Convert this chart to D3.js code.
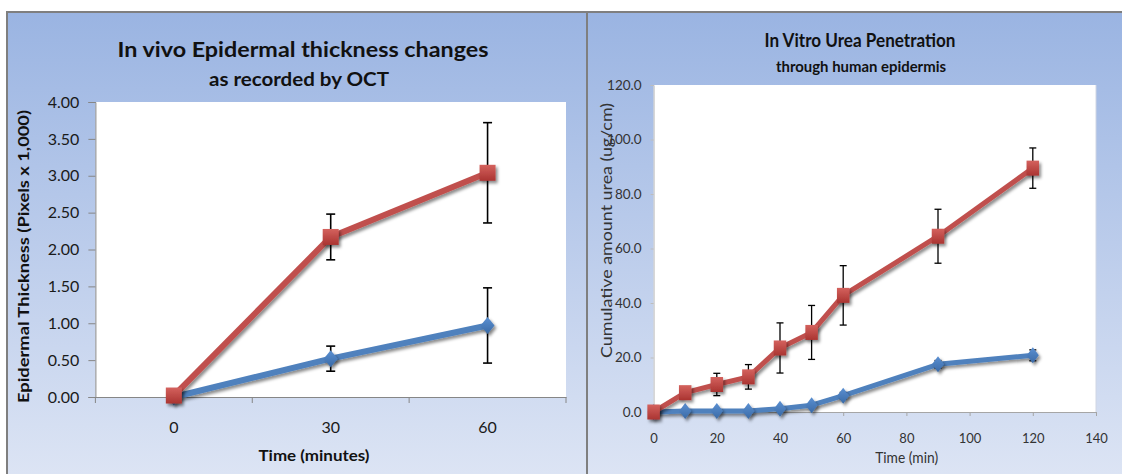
<!DOCTYPE html>
<html>
<head>
<meta charset="utf-8">
<script src="https://cdn.jsdelivr.net/npm/d3@7"></script>
<style>
  body { margin: 0; background: #fff; }
  svg { display: block; font-family: Lato, "Open Sans", sans-serif; }
</style>
</head>
<body>
<svg id="chart" width="1122" height="474"></svg>
<script>
// ---------- data: left panel (OCT thickness) ----------
const octTimes = ["0", "30", "60"];
const octTreated = [0.02, 2.17, 3.04];
const octTreatedErr = [0, 0.31, 0.68];
const octControl = [0, 0.52, 0.97];
const octControlErr = [0, 0.17, 0.51];
const octTicks = [0, 0.5, 1, 1.5, 2, 2.5, 3, 3.5, 4];

// ---------- data: right panel (urea penetration) ----------
const ureaTimes = [0, 10, 20, 30, 40, 50, 60, 90, 120];
const ureaTreated = [0, 7.1, 10.1, 12.9, 23.5, 29.2, 42.8, 64.5, 89.5];
const ureaTreatedErr = [0, 0, 4.1, 4.5, 9.2, 9.9, 10.9, 9.9, 7.4];
const ureaControl = [0, 0.4, 0.4, 0.4, 1.2, 2.5, 6.0, 17.5, 20.8];
const ureaControlErr = [0, 0.3, 0.3, 0.3, 0.5, 0.8, 1.2, 1.4, 2.0];
const ureaYTicks = [0, 20, 40, 60, 80, 100, 120];
const ureaXTicks = [0, 20, 40, 60, 80, 100, 120, 140];

const RED = "#c0504d", BLUE = "#4f81bd";

const svg = d3.select("#chart");
const defs = svg.append("defs");

const bg = defs.append("linearGradient").attr("id", "panelBg")
  .attr("gradientUnits", "userSpaceOnUse").attr("x1", 0).attr("x2", 0).attr("y1", 12).attr("y2", 474);
bg.append("stop").attr("offset", "0%").attr("stop-color", "#9ab4e2");
bg.append("stop").attr("offset", "100%").attr("stop-color", "#dce4f4");

const redGrad = defs.append("linearGradient").attr("id", "redMark").attr("x1", 0).attr("x2", 0).attr("y1", 0).attr("y2", 1);
redGrad.append("stop").attr("offset", "0%").attr("stop-color", "#d4625e");
redGrad.append("stop").attr("offset", "100%").attr("stop-color", "#aa3431");
const blueGrad = defs.append("linearGradient").attr("id", "blueMark").attr("x1", 0).attr("x2", 0).attr("y1", 0).attr("y2", 1);
blueGrad.append("stop").attr("offset", "0%").attr("stop-color", "#5b90d2");
blueGrad.append("stop").attr("offset", "100%").attr("stop-color", "#3a6aa6");

defs.append("filter").attr("id", "shadow").attr("x", "-50%").attr("y", "-50%").attr("width", "200%").attr("height", "200%")
  .append("feDropShadow").attr("dx", 2).attr("dy", 2.5).attr("stdDeviation", 1.4)
  .attr("flood-color", "#000").attr("flood-opacity", 0.45);

// panels
svg.append("rect").attr("x", 7).attr("y", 12).attr("width", 580).attr("height", 470)
  .attr("fill", "url(#panelBg)").attr("stroke", "#7f7f7f").attr("stroke-width", 2);
svg.append("rect").attr("x", 587).attr("y", 12).attr("width", 545).attr("height", 470)
  .attr("fill", "url(#panelBg)").attr("stroke", "#7f7f7f").attr("stroke-width", 2);

const squarePath = (w, h) => `M${-w/2},${-h/2}H${w/2}V${h/2}H${-w/2}Z`;
const diamondPath = (w, h) => `M0,${-h/2}L${w/2},0L0,${h/2}L${-w/2},0Z`;

function drawSeries(g, pts, opt) {
  const line = d3.line().x(d => d.x).y(d => d.y);
  g.append("path").datum(pts).attr("d", line).attr("fill", "none")
    .attr("stroke", opt.color).attr("stroke-width", opt.lw)
    .attr("stroke-linejoin", "round").attr("filter", "url(#shadow)");
  const eb = g.append("g").attr("stroke", "#000").attr("stroke-width", opt.ebw);
  pts.filter(d => d.top !== d.bot).forEach(d => {
    eb.append("line").attr("x1", d.x).attr("x2", d.x).attr("y1", d.top).attr("y2", d.bot);
    eb.append("line").attr("x1", d.x - opt.cap).attr("x2", d.x + opt.cap).attr("y1", d.top).attr("y2", d.top);
    eb.append("line").attr("x1", d.x - opt.cap).attr("x2", d.x + opt.cap).attr("y1", d.bot).attr("y2", d.bot);
  });
  g.append("g").selectAll("path").data(pts).join("path")
    .attr("transform", d => `translate(${d.x},${d.y})`)
    .attr("d", opt.shape).attr("fill", opt.fill).attr("filter", "url(#shadow)");
}

// ================= left panel =================
{
  const x = d3.scaleBand().domain(octTimes).range([95.4, 566]).padding(0);
  const y = d3.scaleLinear().domain([0, 4]).range([397, 102]);
  const g = svg.append("g");

  g.append("rect").attr("x", 95.4).attr("y", 102).attr("width", 566 - 95.4).attr("height", 295).attr("fill", "#fff");

  const yAxis = g.append("g").attr("transform", "translate(95.4,0)")
    .call(d3.axisLeft(y).tickValues(octTicks).tickFormat(d3.format(".2f")).tickSize(7).tickPadding(9));
  yAxis.selectAll("line, path").attr("stroke", "#868686");
  yAxis.selectAll("text").attr("font-size", 16).attr("fill", "#1a1a1a").attr("font-family", "Lato");

  const xAxis = g.append("g").attr("transform", "translate(0,397)")
    .call(d3.axisBottom(x).tickSize(0).tickPadding(25));
  xAxis.select(".domain").attr("stroke", "#868686");
  xAxis.selectAll("text").attr("font-size", 16).attr("fill", "#1a1a1a").attr("font-family", "Lato");
  const bounds = octTimes.map(t => x(t)).concat([x.range()[1]]);
  xAxis.selectAll(".bound").data(bounds).join("line").attr("class", "bound")
    .attr("x1", d => d).attr("x2", d => d).attr("y1", 0).attr("y2", 6).attr("stroke", "#868686");

  const cx = t => x(t) + x.bandwidth() / 2;
  const mk = (vals, errs) => octTimes.map((t, i) => ({ x: cx(t), y: y(vals[i]), top: y(vals[i] + errs[i]), bot: y(vals[i] - errs[i]) }));

  drawSeries(g, mk(octControl, octControlErr), { color: BLUE, lw: 6, ebw: 1.6, cap: 4.5, shape: diamondPath(14, 17), fill: "url(#blueMark)" });
  drawSeries(g, mk(octTreated, octTreatedErr), { color: RED, lw: 6, ebw: 1.6, cap: 4.5, shape: squarePath(16, 16), fill: "url(#redMark)" });

  g.append("text").attr("x", 303).attr("y", 57).attr("text-anchor", "middle")
    .attr("font-size", 21).attr("font-weight", "bold").attr("fill", "#111")
    .attr("textLength", 371).attr("lengthAdjust", "spacingAndGlyphs")
    .text("In vivo Epidermal thickness changes");
  g.append("text").attr("x", 299).attr("y", 86).attr("text-anchor", "middle")
    .attr("font-size", 18).attr("font-weight", "bold").attr("fill", "#111")
    .attr("textLength", 180).attr("lengthAdjust", "spacingAndGlyphs")
    .text("as recorded by OCT");
  g.append("text").attr("x", 314).attr("y", 461).attr("text-anchor", "middle")
    .attr("font-size", 16).attr("font-weight", "bold").attr("fill", "#111")
    .attr("textLength", 111).attr("lengthAdjust", "spacingAndGlyphs")
    .text("Time (minutes)");
  g.append("text").attr("transform", "translate(23,256.5) rotate(-90)").attr("dy", "0.35em")
    .attr("text-anchor", "middle").attr("font-size", 16).attr("font-weight", "bold").attr("fill", "#111")
    .attr("textLength", 293).attr("lengthAdjust", "spacingAndGlyphs")
    .text("Epidermal Thickness (Pixels x 1,000)");
}

// ================= right panel =================
{
  const x = d3.scaleLinear().domain([0, 140]).range([653.6, 1096]);
  const y = d3.scaleLinear().domain([0, 120]).range([412, 85]);
  const g = svg.append("g");

  g.append("rect").attr("x", 653.6).attr("y", 85).attr("width", 1096 - 653.6).attr("height", 327)
    .attr("fill", "#fff");
  g.append("line").attr("x1", 1096).attr("x2", 1096).attr("y1", 85).attr("y2", 412).attr("stroke", "#d0d6e4");

  const yAxis = g.append("g").attr("transform", "translate(653.6,0)")
    .call(d3.axisLeft(y).tickValues(ureaYTicks).tickFormat(d3.format(".1f")).tickSize(3).tickPadding(9));
  yAxis.selectAll("line, path").attr("stroke", "#bdbdbd");
  yAxis.selectAll("text").attr("font-size", 13.5).attr("fill", "#333").attr("font-family", "Lato");

  const xAxis = g.append("g").attr("transform", "translate(0,412)")
    .call(d3.axisBottom(x).tickValues(ureaXTicks).tickFormat(d3.format("d")).tickSize(4).tickSizeOuter(4).tickPadding(18));
  xAxis.selectAll("line, path").attr("stroke", "#a6a6a6");
  xAxis.selectAll("text").attr("font-size", 13).attr("fill", "#333").attr("font-family", "Lato");

  const mk = (vals, errs) => ureaTimes.map((t, i) => ({ x: x(t), y: y(vals[i]), top: y(vals[i] + errs[i]), bot: y(vals[i] - errs[i]) }));

  drawSeries(g, mk(ureaControl, ureaControlErr), { color: BLUE, lw: 5, ebw: 1.3, cap: 3.5, shape: diamondPath(12, 16), fill: "url(#blueMark)" });
  drawSeries(g, mk(ureaTreated, ureaTreatedErr), { color: RED, lw: 5, ebw: 1.3, cap: 3.5, shape: squarePath(12.5, 15), fill: "url(#redMark)" });

  g.append("text").attr("x", 860).attr("y", 47).attr("text-anchor", "middle")
    .attr("font-size", 18).attr("font-weight", "bold").attr("fill", "#111")
    .attr("textLength", 191).attr("lengthAdjust", "spacingAndGlyphs")
    .text("In Vitro Urea Penetration");
  g.append("text").attr("x", 861).attr("y", 72).attr("text-anchor", "middle")
    .attr("font-size", 15).attr("font-weight", "bold").attr("fill", "#111")
    .attr("textLength", 170).attr("lengthAdjust", "spacingAndGlyphs")
    .text("through human epidermis");
  g.append("text").attr("x", 906.7).attr("y", 463).attr("text-anchor", "middle")
    .attr("font-size", 15).attr("fill", "#333")
    .attr("textLength", 63).attr("lengthAdjust", "spacingAndGlyphs")
    .text("Time (min)");
  g.append("text").attr("transform", "translate(606,230.5) rotate(-90)").attr("dy", "0.35em")
    .attr("text-anchor", "middle").attr("font-size", 16).attr("fill", "#333")
    .attr("textLength", 255).attr("lengthAdjust", "spacingAndGlyphs")
    .text("Cumulative amount urea (ug/cm)");
}
</script>
</body>
</html>
